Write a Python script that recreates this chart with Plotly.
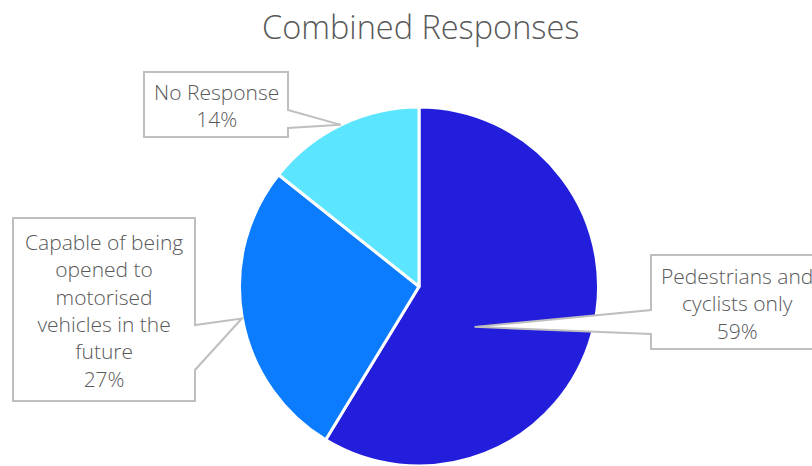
import math
import plotly.graph_objects as go

# ---- data ----
labels = ["Pedestrians and cyclists only",
          "Capable of being opened to motorised vehicles in the future",
          "No Response"]
label_lines = ["Pedestrians and<br>cyclists only",
               "Capable of being<br>opened to<br>motorised<br>vehicles in the<br>future",
               "No Response"]
values = [58.7, 27.0, 14.3]
colors = ["#221EDB", "#0C7CFF", "#5BE5FF"]
title_text = "Combined Responses"

# ---- layout constants (pixels) ----
W, H = 812, 466
CX, CY, R = 419, 287, 180
TEXT_COLOR = "#595959"
FONT = "Open Sans"

def px(x):
    return x / W

def py(y):
    return 1 - y / H

# callout geometry: box (x0, y0, x1, y1), tail side, tail base (ya, yb), tip radius fraction, tip angle offset
callouts = [
    dict(box=(651, 255, 822, 349), side="left", base=(310, 334), rfrac=0.38, dang=20),
    dict(box=(13, 218, 195, 401), side="right", base=(325, 370), rfrac=1.0, dang=0),
    dict(box=(144, 72, 288, 137), side="right", base=(110, 128), rfrac=1.0, dang=0),
]

total = sum(values)
fig = go.Figure()
fig.add_trace(go.Pie(
    labels=labels, values=values, sort=False, direction="clockwise", rotation=0,
    marker=dict(colors=colors, line=dict(color="white", width=3)),
    textinfo="none", hoverinfo="skip", showlegend=False,
    domain=dict(x=[px(CX - R), px(CX + R)], y=[0, (H - CY + R) / H]),
))

shapes = []
annotations = []
cum = 0.0
for lab, v, c in zip(label_lines, values, callouts):
    mid = (cum + v / 2) / total * 360 + c["dang"]
    cum += v
    rr = R * c["rfrac"]
    tx = CX + rr * math.sin(math.radians(mid))
    ty = CY - rr * math.cos(math.radians(mid))
    x0, y0, x1, y1 = c["box"]
    ya, yb = c["base"]
    if c["side"] == "right":
        pts = [(x0, y0), (x1, y0), (x1, ya), (tx, ty), (x1, yb), (x1, y1), (x0, y1)]
    else:
        pts = [(x0, y0), (x1, y0), (x1, y1), (x0, y1), (x0, yb), (tx, ty), (x0, ya)]
    path = "M " + " L ".join(f"{px(a):.5f},{py(b):.5f}" for a, b in pts) + " Z"
    shapes.append(dict(type="path", path=path, xref="paper", yref="paper",
                       fillcolor="white", line=dict(color="#BFBFBF", width=2), layer="above"))
    pct = round(v / total * 100)
    annotations.append(dict(
        text=f"{lab}<br>{pct}%", x=px((x0 + x1) / 2), y=py((y0 + y1) / 2 + 1),
        xref="paper", yref="paper", xanchor="center", yanchor="middle",
        showarrow=False, align="center",
        font=dict(family=FONT, size=21, color=TEXT_COLOR, weight=300),
    ))

annotations.append(dict(
    text=title_text, x=px(420), y=py(27), xref="paper", yref="paper",
    xanchor="center", yanchor="middle", showarrow=False,
    font=dict(family=FONT, size=32.5, color=TEXT_COLOR, weight=300),
))

fig.update_layout(
    width=W, height=H, margin=dict(l=0, r=0, t=0, b=0),
    paper_bgcolor="white", plot_bgcolor="white",
    shapes=shapes, annotations=annotations,
)
fig.write_html("out.html")
